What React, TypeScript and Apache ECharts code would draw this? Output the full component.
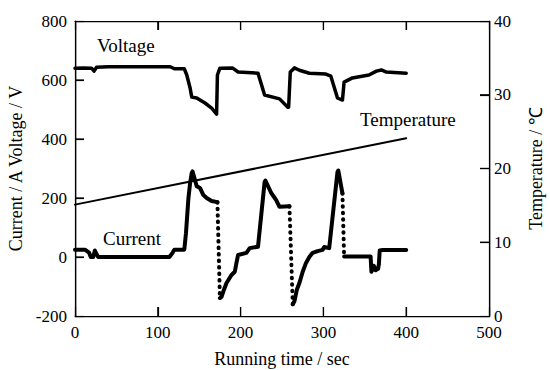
import React, { useEffect, useRef } from "react";
import * as echarts from "echarts";

const xTicks = [0, 100, 200, 300, 400, 500];
const leftTicks = [-200, 0, 200, 400, 600, 800];
const rightTicks = [0, 10, 20, 30, 40];

const voltage: [number, number][] = [
  [0, 640], [10, 641], [20, 640], [23, 630], [26, 643], [40, 645], [115, 645], [120, 638],
  [132, 638], [135, 617], [139, 573], [141, 542], [147, 539], [157, 522], [165, 505],
  [171, 484], [172, 617], [175, 640], [190, 641], [197, 627], [221, 623], [229, 549],
  [247, 536], [257, 508], [258, 508], [260, 627], [265, 641], [271, 633], [283, 623],
  [303, 620], [309, 613], [317, 539], [323, 532], [325, 593], [335, 607], [355, 617],
  [364, 630], [370, 634], [376, 627], [400, 623],
];

const temperature: [number, number][] = [
  [0, 15.1], [400, 24.1],
];

const currentSeg1: [number, number][] = [
  [0, 25], [12, 25], [17, 15], [19, 0], [22, 0], [24, 22], [26, 10], [28, 0], [114, 0],
  [118, 15], [120, 25], [132, 25], [134, 80], [137, 200], [139, 250], [141, 285],
  [142, 290], [144, 270], [147, 240], [151, 234], [155, 210], [159, 200], [165, 190],
  [172, 186],
];
const currentSeg2: [number, number][] = [
  [175, -139], [177, -135], [180, -110], [183, -88], [189, -61], [193, -50], [195, -20],
  [197, 7], [207, 14], [211, 30], [221, 35], [229, 254], [230, 259], [237, 217],
  [243, 193], [247, 170], [259, 172],
];
const currentSeg3: [number, number][] = [
  [263, -160], [265, -150], [268, -110], [271, -88], [275, -50], [279, -20], [283, 0],
  [287, 14], [293, 20], [299, 24], [301, 34], [307, 30], [317, 288], [318, 293],
  [323, 216],
];
const currentSeg4: [number, number][] = [
  [325, 2], [357, 2], [358, -50], [361, -30], [363, -45], [366, -40], [367, -25],
  [368, 22], [372, 24], [400, 24],
];
const currentDrops: [number, number][][] = [
  [[172, 186], [175, -139]],
  [[259, 172], [263, -160]],
  [[323, 216], [325, 2]],
];

const FONT = "'Liberation Serif', 'Times New Roman', serif";

const GRID = { left: 75, right: 61, top: 21, bottom: 54 };
const W = 550;
const H = 370;
const TICK_LEN = 9;

export default function App() {
  const ref = useRef<HTMLDivElement>(null);
  useEffect(() => {
    if (!ref.current) return;
    const chart = echarts.init(ref.current, undefined, { renderer: "svg" });
    const xMin = xTicks[0];
    const xMax = xTicks[xTicks.length - 1];
    const lMin = leftTicks[0];
    const lMax = leftTicks[leftTicks.length - 1];
    const rMin = rightTicks[0];
    const rMax = rightTicks[rightTicks.length - 1];

    const axisLine = () => ({ show: true, onZero: false, lineStyle: { color: "#000", width: 1.2 } });
    const tick = () => ({ show: true, inside: true, length: TICK_LEN, lineStyle: { color: "#000", width: 1.2 } });
    const label = () => ({ color: "#000", fontSize: 17, fontFamily: FONT });
    const nameStyle = () => ({ color: "#000", fontSize: 18, fontFamily: FONT });
    const solid = (data: [number, number][], width: number, yAxisIndex = 0) => ({
      type: "line",
      data,
      yAxisIndex,
      showSymbol: false,
      symbol: "none",
      lineStyle: { color: "#000", width, join: "round", cap: "round" },
      silent: true,
    });
    const series: any[] = [
      solid(voltage, 3.5),
      solid(temperature, 2, 1),
      solid(currentSeg1, 4),
      solid(currentSeg2, 4),
      solid(currentSeg3, 4),
      solid(currentSeg4, 4),
      ...currentDrops.map((d) => ({
        type: "line",
        data: d,
        showSymbol: false,
        symbol: "none",
        lineStyle: { color: "#000", width: 4, type: [0.5, 6], cap: "round" },
        silent: true,
      })),
    ];

    // frame + inward ticks (drawn as graphics so they are always visible)
    const gx0 = GRID.left;
    const gy0 = GRID.top;
    const gw = W - GRID.left - GRID.right;
    const gh = H - GRID.top - GRID.bottom;
    const px = (v: number) => gx0 + ((v - xMin) / (xMax - xMin)) * gw;
    const pyL = (v: number) => gy0 + ((lMax - v) / (lMax - lMin)) * gh;
    const pyR = (v: number) => gy0 + ((rMax - v) / (rMax - rMin)) * gh;
    const lineStyle = { stroke: "#000", lineWidth: 1.2 };
    const tickLines: any[] = [];
    xTicks.slice(1, -1).forEach((v) => {
      const x = px(v);
      tickLines.push({ type: "line", silent: true, z: 100, shape: { x1: x, y1: gy0 + gh, x2: x, y2: gy0 + gh - TICK_LEN }, style: lineStyle });
      tickLines.push({ type: "line", silent: true, z: 100, shape: { x1: x, y1: gy0, x2: x, y2: gy0 + TICK_LEN }, style: lineStyle });
    });
    leftTicks.slice(1, -1).forEach((v) => {
      const y = pyL(v);
      tickLines.push({ type: "line", silent: true, z: 100, shape: { x1: gx0, y1: y, x2: gx0 + TICK_LEN, y2: y }, style: lineStyle });
    });
    rightTicks.slice(1, -1).forEach((v) => {
      const y = pyR(v);
      tickLines.push({ type: "line", silent: true, z: 100, shape: { x1: gx0 + gw, y1: y, x2: gx0 + gw - TICK_LEN, y2: y }, style: lineStyle });
    });

    chart.setOption({
      animation: false,
      backgroundColor: "#fff",
      grid: { ...GRID, outerBoundsMode: "none", containLabel: false },
      xAxis: [
        {
          type: "value",
          min: xMin,
          max: xMax,
          interval: 100,
          position: "bottom",
          axisLine: axisLine(),
          axisTick: tick(),
          splitLine: { show: false },
          axisLabel: { ...label(), margin: 8 },
          name: "Running time / sec",
          nameLocation: "middle",
          nameGap: 34,
          nameTextStyle: nameStyle(),
        },
        {
          type: "value",
          min: xMin,
          max: xMax,
          interval: 100,
          position: "top",
          axisLine: axisLine(),
          axisTick: tick(),
          splitLine: { show: false },
          axisLabel: { show: false },
        },
      ],
      yAxis: [
        {
          type: "value",
          min: lMin,
          max: lMax,
          interval: 200,
          position: "left",
          axisLine: axisLine(),
          axisTick: tick(),
          splitLine: { show: false },
          axisLabel: { ...label(), margin: 8 },
          name: "Current / A Voltage / V",
          nameLocation: "middle",
          nameGap: 46,
          nameTextStyle: nameStyle(),
        },
        {
          type: "value",
          min: rMin,
          max: rMax,
          interval: 10,
          position: "right",
          axisLine: axisLine(),
          axisTick: tick(),
          splitLine: { show: false },
          axisLabel: { ...label(), margin: 5 },
          name: "Temperature / ℃",
          nameLocation: "middle",
          nameRotate: 90,
          nameGap: 38,
          nameTextStyle: nameStyle(),
        },
      ],
      graphic: [
        {
          type: "rect",
          silent: true,
          z: 100,
          left: gx0,
          top: gy0,
          shape: { x: 0, y: 0, width: gw, height: gh },
          style: { fill: "transparent", stroke: "#000", lineWidth: 1.3 },
        },
        ...tickLines,
        { type: "text", left: 97, top: 36, style: { text: "Voltage", fill: "#000", font: `19px ${FONT}` } },
        { type: "text", left: 103, top: 229, style: { text: "Current", fill: "#000", font: `19px ${FONT}` } },
        { type: "text", left: 360, top: 110, style: { text: "Temperature", fill: "#000", font: `19px ${FONT}` } },
      ],
      series,
    });
    return () => chart.dispose();
  }, []);
  return (
    <div
      ref={ref}
      style={{ position: "fixed", left: 0, top: 0, width: W, height: H }}
    />
  );
}
